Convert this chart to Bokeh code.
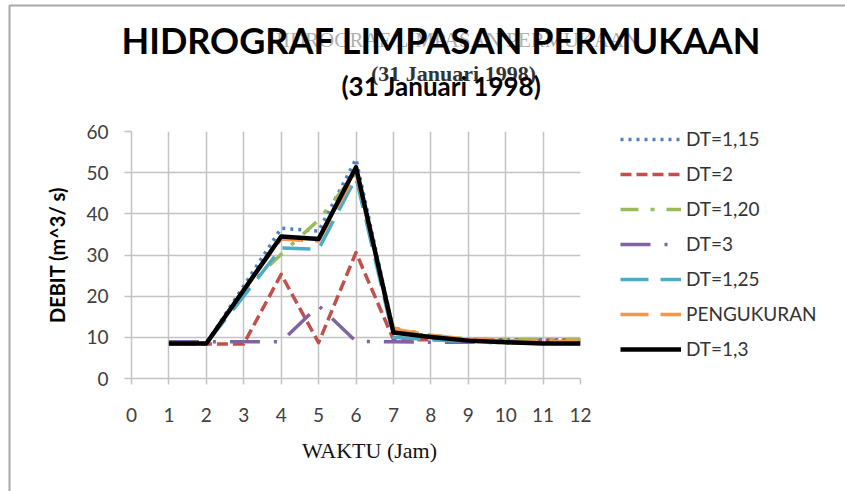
from bokeh.plotting import figure
from bokeh.models import Range1d, FixedTicker, Legend, LegendItem
from bokeh.core.properties import value
from bokeh.embed import file_html
from bokeh.resources import INLINE

# ---------------- data ----------------
waktu = [1, 2, 3, 4, 5, 6, 7, 8, 9, 10, 11, 12]
x_ticks = [0, 1, 2, 3, 4, 5, 6, 7, 8, 9, 10, 11, 12]
y_ticks = [0, 10, 20, 30, 40, 50, 60]

dt_115 = [8.5, 8.5, 22.5, 36.5, 35.8, 53.3, 11.5, 10.2, 9.5, 9.4, 9.4, 9.4]
dt_2 = [8.4, 8.4, 8.4, 25.3, 8.7, 30.6, 9.5, 9.4, 9.3, 9.3, 9.3, 9.3]
dt_120 = [8.5, 8.5, 21.5, 30.2, 38.5, 50.0, 12.3, 10.5, 9.6, 9.5, 9.5, 9.5]
dt_3 = [8.9, 8.9, 8.9, 8.9, 17.7, 9.0, 8.9, 8.8, 8.8, 8.7, 8.6, 8.5]
dt_125 = [8.5, 8.5, 20.0, 31.7, 31.4, 48.8, 10.0, 9.4, 9.0, 8.7, 8.5, 8.5]
pengukuran = [8.5, 8.5, 21.5, 33.9, 33.4, 50.0, 12.0, 10.5, 9.5, 9.2, 9.0, 9.0]
dt_13 = [8.5, 8.5, 21.5, 34.5, 33.9, 51.3, 11.2, 10.1, 9.2, 8.8, 8.5, 8.5]

series_names = ["DT=1,15", "DT=2", "DT=1,20", "DT=3", "DT=1,25", "PENGUKURAN", "DT=1,3"]
series_values = [dt_115, dt_2, dt_120, dt_3, dt_125, pengukuran, dt_13]

title_text = "HIDROGRAF LIMPASAN PERMUKAAN"
subtitle_text = "(31 Januari 1998)"
x_title = "WAKTU (Jam)"
y_title = "DEBIT (m^3/ s)"

# ---------------- styles ----------------
colors = ["#4F81BD", "#C0504D", "#9BBB59", "#8064A2", "#4BACC6", "#F79646", "#000000"]
dashes = ["3 5", "11 5", "18 12 4 12", "30 14 3 14", "28 12", "28 12", "solid"]
widths = [3.5, 3.5, 3.5, 3.5, 3.5, 3.5, 4.5]

W, H = 845, 491
ML, MT = 131, 131
MR, MB = W - 580, H - 378
FW, FH = W - ML - MR, H - MT - MB

p = figure(frame_width=FW, frame_height=FH, output_backend="svg", toolbar_location=None,
           x_range=Range1d(0, 12), y_range=Range1d(0, 60),
           min_border_left=ML, min_border_right=MR,
           min_border_top=MT, min_border_bottom=MB)
p.outline_line_color = None
p.background_fill_color = "white"
p.border_fill_color = "white"

grid_color = "#c3c3c3"
for ax, ticks in ((p.xaxis, x_ticks), (p.yaxis, y_ticks)):
    ax.ticker = FixedTicker(ticks=ticks)
    ax.minor_tick_line_color = None
    ax.major_tick_in = 0
    ax.axis_line_color = grid_color
    ax.axis_line_width = 1.5
    ax.major_tick_line_color = grid_color
    ax.major_tick_line_width = 1.5
    ax.major_label_text_font = "Lato"
    ax.major_label_text_font_size = "19px"
    ax.major_label_text_color = "#404040"
p.xaxis.major_tick_out = 6
p.xaxis.major_label_standoff = 23
p.yaxis.major_tick_out = 7
p.yaxis.major_label_standoff = 16

# y axis title via the axis itself
p.yaxis.axis_label = y_title
p.yaxis.axis_label_text_font = "Lato"
p.yaxis.axis_label_text_font_size = "20px"
p.yaxis.axis_label_text_font_style = "bold"
p.yaxis.axis_label_text_color = "#000000"
p.yaxis.axis_label_standoff = 14

p.xgrid.ticker = FixedTicker(ticks=x_ticks)
p.ygrid.ticker = FixedTicker(ticks=y_ticks)
for g in (p.xgrid, p.ygrid):
    g.grid_line_color = grid_color
    g.grid_line_width = 1.5

items = []
for name, vals, c, d, w in zip(series_names, series_values, colors, dashes, widths):
    r = p.line(waktu, vals, line_color=c, line_width=w, line_dash=d, line_join="round")
    items.append(LegendItem(label=name, renderers=[r]))

legend = Legend(items=items, location=(40, 18), glyph_width=61, glyph_height=20,
                label_height=20, spacing=12, padding=0, margin=0,
                border_line_color=None, background_fill_alpha=0,
                label_text_font="Lato", label_text_font_size="19px",
                label_text_color="#333333", label_standoff=5)
p.add_layout(legend, "right")

# page-pixel -> data helpers
def dx(px):
    return (px - ML) / (FW / 12.0)

def dy(py):
    return (H - MB - py) / (FH / 60.0)

def txt(px, py, s, font, size, color, style="normal", alpha=1.0):
    p.text(x=[dx(px)], y=[dy(py)], text=[s], text_align="center",
           text_baseline="alphabetic", text_font=value(font), text_font_size=size,
           text_font_style=style, text_color=color, text_alpha=alpha,
           level="overlay")

# ghost serif title (behind)
txt(453, 39.5, title_text, "Liberation Serif", "21px", "#9a9a9a", alpha=0.8)
txt(453, 73, subtitle_text, "Liberation Serif", "22px", "#333333", style="bold")
# main title
txt(441, 39.5, title_text, "Lato", "36px", "#000000", style="bold")
txt(441, 85, subtitle_text, "Lato", "26px", "#000000", style="bold")
# x axis title
txt(369, 449.5, x_title, "Liberation Serif", "22px", "#111111")

# chart border (left and top)
p.line([dx(860), dx(9), dx(9)], [dy(5), dy(5), dy(520)], line_color="#a8a8a8",
       line_width=2, level="overlay")

open("out.html", "w").write(file_html(p, INLINE))
